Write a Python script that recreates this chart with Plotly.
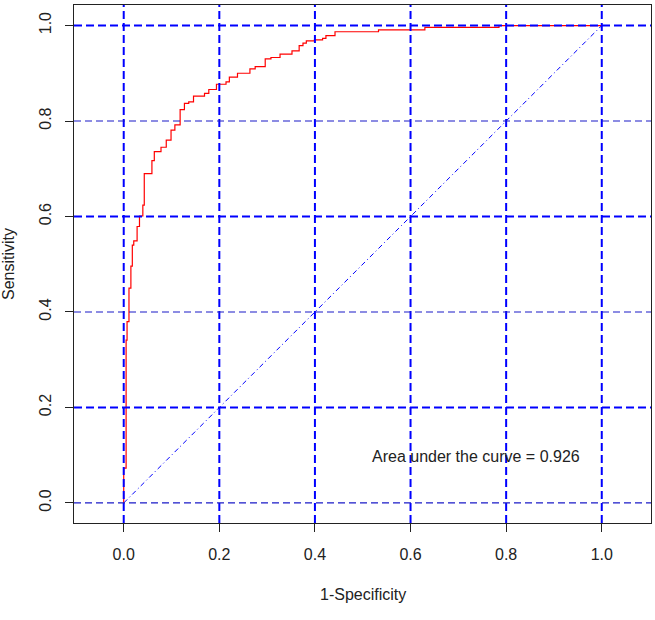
import plotly.graph_objects as go

# ROC curve points (1-Specificity, Sensitivity), step corners
fpr = [0.0, 0.0, 0.005, 0.007, 0.011, 0.015, 0.018, 0.021, 0.028, 0.033, 0.040,
       0.043, 0.059, 0.064, 0.078, 0.089, 0.099, 0.107, 0.118, 0.127, 0.136,
       0.146, 0.169, 0.178, 0.194, 0.214, 0.221, 0.238, 0.264, 0.275, 0.296,
       0.308, 0.327, 0.352, 0.367, 0.375, 0.382, 0.399, 0.416, 0.423, 0.442,
       0.533, 0.630, 0.785, 1.0]
tpr = [0.0, 0.073, 0.341, 0.380, 0.450, 0.496, 0.540, 0.549, 0.579, 0.601, 0.624,
       0.690, 0.717, 0.736, 0.745, 0.760, 0.781, 0.792, 0.824, 0.837, 0.840,
       0.852, 0.858, 0.866, 0.877, 0.882, 0.892, 0.900, 0.909, 0.914, 0.930,
       0.933, 0.940, 0.947, 0.958, 0.963, 0.968, 0.970, 0.973, 0.979, 0.987,
       0.991, 0.996, 1.0, 1.0]

diag_x = [0.0, 1.0]
diag_y = [0.0, 1.0]

tick_vals = [0.0, 0.2, 0.4, 0.6, 0.8, 1.0]
tick_text = ["0.0", "0.2", "0.4", "0.6", "0.8", "1.0"]
thick_h = [0.2, 0.6, 1.0]
thin_h = [0.0, 0.4, 0.8]
v_grid = [0.0, 0.2, 0.4, 0.6, 0.8, 1.0]

auc_label = "Area under the curve = 0.926"
x_title = "1-Specificity"
y_title = "Sensitivity"

FONT = "Liberation Sans, Arial, sans-serif"
BLUE = "#0000ff"
TXT = "#222222"

fig = go.Figure()
fig.add_trace(go.Scatter(x=fpr, y=tpr, mode="lines", line=dict(color="#ff0000", width=1.2, shape="hv"),
                         showlegend=False, hoverinfo="skip"))

shapes = []
for v in v_grid:
    shapes.append(dict(type="line", xref="x", yref="y domain", x0=v, x1=v, y0=0, y1=1,
                       line=dict(color=BLUE, width=2, dash="8px,4px"), layer="above"))
for h in thick_h:
    shapes.append(dict(type="line", xref="x domain", yref="y", x0=0, x1=1, y0=h, y1=h,
                       line=dict(color=BLUE, width=2, dash="8px,4px"), layer="above"))
for h in thin_h:
    shapes.append(dict(type="line", xref="x domain", yref="y", x0=0, x1=1, y0=h, y1=h,
                       line=dict(color="#1a1ac8", width=1.2, dash="7px,4px"), layer="above"))

fig.add_trace(go.Scatter(x=diag_x, y=diag_y, mode="lines",
                         line=dict(color=BLUE, width=1, dash="5px,3px,1px,3px"),
                         showlegend=False, hoverinfo="skip"))

fig.update_layout(
    width=655, height=620,
    margin=dict(l=74, r=4, t=5, b=97),
    paper_bgcolor="white", plot_bgcolor="white",
    font=dict(family=FONT, size=16, color=TXT),
    shapes=shapes,
    xaxis=dict(range=[-0.104, 1.103], tickvals=tick_vals, ticktext=tick_text,
               showgrid=False, zeroline=False, showline=True, mirror=True,
               linecolor=TXT, linewidth=1, ticks="outside", ticklen=8,
               tickcolor=TXT, tickfont=dict(size=16, family=FONT, color=TXT),
               ticklabelstandoff=9),
    yaxis=dict(range=[-0.042, 1.043], tickvals=tick_vals, ticktext=tick_text,
               showgrid=False, zeroline=False, showline=True, mirror=True,
               linecolor=TXT, linewidth=1, ticks="outside", ticklen=8,
               tickcolor=TXT, tickangle=-90,
               tickfont=dict(size=16, family=FONT, color=TXT),
               ticklabelstandoff=8),
    annotations=[
        dict(x=0.737, y=0.098, xref="x", yref="y", text=auc_label, showarrow=False,
             font=dict(size=16, family=FONT, color=TXT), xanchor="center", yanchor="middle"),
        dict(x=0.5, y=0, xref="paper", yref="paper", text=x_title, showarrow=False,
             font=dict(size=16, family=FONT, color=TXT), xanchor="center", yanchor="middle",
             yshift=-71),
        dict(x=0, y=0.5, xref="paper", yref="paper", text=y_title, showarrow=False, textangle=-90,
             font=dict(size=16, family=FONT, color=TXT), xanchor="center", yanchor="middle",
             xshift=-66),
    ],
)

fig.write_html("out.html")
